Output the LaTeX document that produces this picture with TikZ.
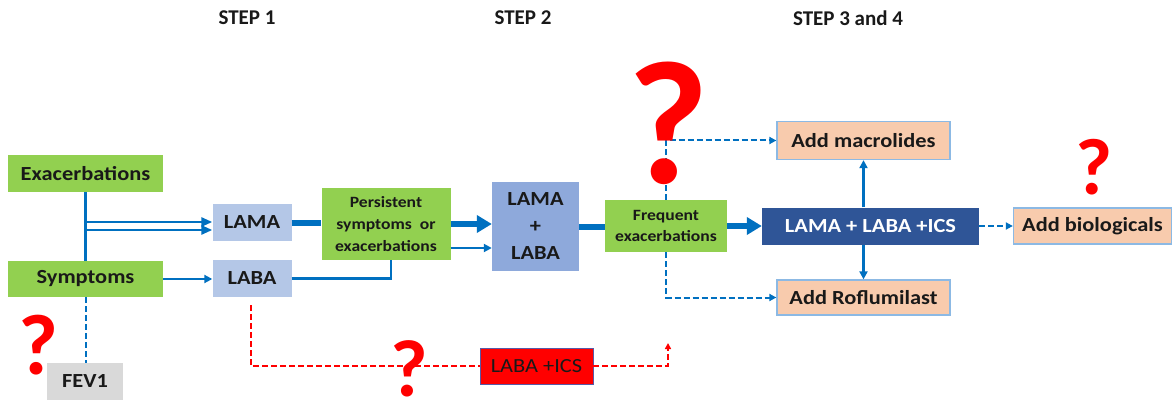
\documentclass[tikz,border=0pt]{standalone}
\usepackage{fontspec}
\setmainfont{Carlito}
\newfontfamily\bxf{Carlito}[FakeStretch=1.12]
\usetikzlibrary{arrows.meta,calc}
\definecolor{grn}{RGB}{146,208,80}
\definecolor{lblue}{RGB}{180,199,231}
\definecolor{mblue}{RGB}{142,169,219}
\definecolor{dblue}{RGB}{47,85,151}
\definecolor{peach}{RGB}{248,203,173}
\definecolor{pborder}{RGB}{140,185,228}
\definecolor{gry}{RGB}{217,217,217}
\definecolor{lnblue}{RGB}{0,112,192}
\definecolor{rd}{RGB}{255,0,0}
\definecolor{txt}{RGB}{25,25,25}
\tikzset{
  box/.style={draw=none, inner sep=0pt, align=center, text=txt,
    font=\bxf\bfseries\fontsize{20}{24}\selectfont},
  smallbox/.style={box, font=\bxf\bfseries\fontsize{15.7}{21.8}\selectfont},
  greenbox/.style={box, fill=grn},
  peachbox/.style={box, fill=peach, draw=pborder, line width=1.3pt},
  steplabel/.style={inner sep=0pt, text=txt, font=\bfseries\fontsize{21}{24}\selectfont},
  qmark/.style={inner sep=0pt, text=rd, font=\bfseries},
  thin/.style={draw=lnblue, line width=2.5pt},
  thinarr/.style={thin, -{Triangle[length=8pt,width=8pt]}},
  thick/.style={draw=lnblue, line width=6pt},
  thickarr/.style={thick, -{Triangle[length=15pt,width=17pt]}},
  dsh/.style={draw=lnblue, line width=2pt, dash pattern=on 6pt off 3pt},
  dsharr/.style={dsh, -{Triangle[length=7pt,width=7pt]}},
  rdsh/.style={draw=rd, line width=2pt, dash pattern=on 6pt off 3pt},
}
\begin{document}
\begin{tikzpicture}[x=1pt,y=-1pt]
\useasboundingbox[fill=white] (0,0) rectangle (1172,401);

% step labels
\node[steplabel] (s1) at (247,18) {STEP 1};
\node[steplabel] (s2) at (523,18) {STEP 2};
\node[steplabel] (s3) at (848,18) {STEP 3 and 4};

% boxes
\node[greenbox, minimum width=155pt, minimum height=37pt] (exac) at (85.5,173.5) {Exacerbations};
\node[greenbox, minimum width=155pt, minimum height=36pt] (symp) at (85.5,279) {Symptoms};
\node[box, fill=gry, minimum width=76pt, minimum height=37pt] (fev) at (85,381.5) {FEV1};
\node[box, fill=lblue, minimum width=79pt, minimum height=37pt] (lama) at (252,222.5) {LAMA};
\node[box, fill=lblue, minimum width=79pt, minimum height=37pt] (laba) at (252,278.5) {LABA};
\node[smallbox, fill=grn, minimum width=129pt, minimum height=72pt] (pers) at (386,224)
  {Persistent\\symptoms\ \ or\\exacerbations};
\node[box, fill=mblue, minimum width=87pt, minimum height=89pt,
  font=\bxf\bfseries\fontsize{20}{27}\selectfont] (ll) at (535.5,226.5) {LAMA\\+\\LABA};
\node[smallbox, fill=grn, minimum width=122pt, minimum height=52pt] (freq) at (666,226)
  {Frequent\\exacerbations};
\node[box, fill=dblue, text=white, minimum width=217pt, minimum height=37pt] (ics) at (870.5,226)
  {LAMA + LABA +ICS};
\node[peachbox, minimum width=173pt, minimum height=38pt] (mac) at (863.5,140.5) {Add macrolides};
\node[peachbox, minimum width=173pt, minimum height=35pt] (rof) at (863.5,297.5) {Add Roflumilast};
\node[peachbox, minimum width=158pt, minimum height=36pt] (bio) at (1092.5,226) {Add biologicals};
\node[box, fill=rd, draw=gray!70!blue, line width=0.8pt, minimum width=113pt, minimum height=36pt,
  font=\bxf\fontsize{20}{24}\selectfont] (li) at (536.5,366) {LABA +ICS};

% step 1 connectors
\draw[thin] (exac.south) -- (symp.north);
\coordinate (ja) at (86,222);
\coordinate (jb) at (86,230);
\draw[draw=lnblue, line width=2.6pt, -{Triangle[length=11pt,width=9pt]}] (ja) -- (ja -| lama.west);
\draw[draw=lnblue, line width=2.6pt, -{Triangle[length=11pt,width=9pt]}] (jb) -- (jb -| lama.west);
\draw[thinarr] (symp.east) -- (symp.east -| laba.west);
\draw[dsh] (symp.south) -- (symp.south |- fev.north);

% step 1 -> 2
\draw[thick] (lama.east) -- (lama.east -| pers.west);
\draw[thin] (laba.east) -- ($(laba.east -| pers.south)+(5,0)$) -- ($(pers.south)+(5,0)$);
\draw[thickarr] (pers.east) -- (pers.east -| ll.west);
\draw[thinarr] ($(pers.east)+(0,24)$) -- ($(pers.east -| ll.west)+(0,24)$);

% step 2 -> 3
\draw[thick] (ll.east) -- (ll.east -| freq.west);
\draw[thickarr] (freq.east) -- (freq.east -| ics.west);
\draw[thinarr] (mac.south |- ics.north) -- (mac.south);
\draw[thinarr] (rof.north |- ics.south) -- (rof.north);
\draw[dsharr] (ics.east) -- (bio.west);
\draw[dsharr] (freq.north) -- (freq.north |- mac.west) -- (mac.west);
\draw[dsharr] (freq.south) -- (freq.south |- rof.west) -- (rof.west);

% red dashed path
\coordinate (rs) at ($(laba.south)+(-1,8)$);
\coordinate (re) at (668,343);
\draw[rdsh] (rs) -- (rs |- li.west) -- (li.west);
\draw[rdsh, -{Triangle[length=6pt,width=6pt]}] (li.east) -- (li.east -| re) -- (re);

% question marks
\node[qmark, font=\bfseries\fontsize{86}{86}\selectfont] (q1) at (38,345) {?};
\node[qmark, font=\bfseries\fontsize{81}{81}\selectfont] (q2) at (409,369) {?};
\node[qmark, font=\bfseries\fontsize{176}{176}\selectfont] (q3) at (668,123) {?};
\node[qmark, font=\bfseries\fontsize{80}{80}\selectfont] (q4) at (1094,167) {?};
\end{tikzpicture}
\end{document}
